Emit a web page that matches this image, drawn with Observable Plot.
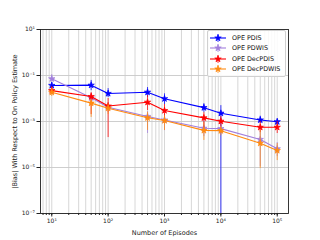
<!DOCTYPE html>
<html>
<head>
<meta charset="utf-8">
<script src="https://cdn.jsdelivr.net/npm/d3@7"></script>
<script src="https://cdn.jsdelivr.net/npm/@observablehq/plot@0.6"></script>
<style>
  html, body { margin: 0; padding: 0; background: white; }
  #wrap { position: relative; width: 320px; height: 240px; font-family: "DejaVu Sans", sans-serif; }
  #wrap > svg { display: block; }
  #legend { position: absolute; left: 207px; top: 30px; width: 77px; padding: 2px 0 2px 0;
            border: 1px solid #d0d0d0; border-radius: 2px; background: rgba(255,255,255,0.85); }
  .item { display: flex; align-items: center; height: 10.3px; font-size: 6.4px; color: #111; }
  .item svg { margin-left: 2px; margin-right: 6px; }
</style>
</head>
<body>
<div id="wrap"><div id="legend"></div></div>
<script>
// ---- data ----
const episodes = [10, 50, 100, 500, 1000, 5000, 10000, 50000, 100000];

const seriesNames = ["OPE PDIS", "OPE PDWIS", "OPE DecPDIS", "OPE DecPDWIS"];
const seriesColors = ["#0000ff", "#a27fdc", "#ff0000", "#ff8a10"];

const pdis   = [0.037, 0.038, 0.0166, 0.0188, 0.0098, 0.0040, 0.0023, 0.00117, 0.00098];
const pdisLo = [0.030, 0.022, 0.011, 0.011, 0.0055, 0.0025, 1e-9, 0.00082, 0.00066];
const pdisHi = [0.050, 0.061, 0.027, 0.030, 0.016, 0.0060, 0.0049, 0.0017, 0.0013];

const pdwis   = [0.072, 0.0107, 0.0042, 0.00166, 0.00117, 0.00051, 0.00049, 0.000166, 0.000065];
const pdwisLo = [0.050, 0.0055, 0.00246, 0.0003, 0.0004, 0.00022, 0.00027, 0.000011, 0.00003];
const pdwisHi = [0.110, 0.0166, 0.0067, 0.0027, 0.0020, 0.0011, 0.00082, 0.00041, 0.000122];

const decpdis   = [0.022, 0.0122, 0.0047, 0.0069, 0.0030, 0.00144, 0.00103, 0.00056, 0.00056];
const decpdisLo = [0.015, 0.0020, 0.0002, 0.0030, 0.0015, 0.0005, 0.00061, 0.00033, 0.0003];
const decpdisHi = [0.033, 0.0182, 0.0100, 0.0135, 0.0055, 0.00246, 0.00165, 0.0010, 0.0010];

const decpdwis   = [0.0187, 0.0063, 0.0038, 0.00145, 0.0011, 0.00041, 0.0004, 0.000114, 0.000055];
const decpdwisLo = [0.0122, 0.0015, 0.0020, 0.00041, 0.00041, 0.00015, 0.00024, 0.000009, 0.00002];
const decpdwisHi = [0.027, 0.0090, 0.0060, 0.0025, 0.0018, 0.0009, 0.00061, 0.00041, 0.00011];

const xTicks = [10, 100, 1000, 10000, 100000];
const xTickLabels = ["10¹", "10²", "10³", "10⁴", "10⁵"];
const yTicks = [10, 0.1, 0.001, 0.00001, 0.0000001];
const yTickLabels = ["10¹", "10⁻¹", "10⁻³", "10⁻⁵", "10⁻⁷"];

const xLabel = "Number of Episodes";
const yLabel = "|Bias| With Respect to On Policy Estimate";

// ---- build tables ----
const seriesValues = [pdis, pdwis, decpdis, decpdwis];
const seriesLo = [pdisLo, pdwisLo, decpdisLo, decpdwisLo];
const seriesHi = [pdisHi, pdwisHi, decpdisHi, decpdwisHi];

const xLabelOf = new Map(xTicks.map((t, i) => [t, xTickLabels[i]]));
const yLabelOf = new Map(yTicks.map((t, i) => [t, yTickLabels[i]]));

const xDomain = [10 ** 0.8, 10 ** 5.2];
const yDomain = [1e-7, 10];
const xMinor = d3.scaleLog().domain(xDomain).ticks().filter(t => t >= xDomain[0] && t <= xDomain[1]);

const marks = [
  Plot.ruleX(xMinor, {x: d => d, stroke: "#d2d2d2", strokeWidth: 0.9}),
  Plot.ruleY(yTicks, {y: d => d, stroke: "#c8c8c8", strokeWidth: 0.9}),
];

seriesNames.forEach((name, s) => {
  const rows = episodes.map((e, i) => ({x: e, y: seriesValues[s][i], lo: seriesLo[s][i], hi: seriesHi[s][i]}));
  const c = seriesColors[s];
  marks.push(
    Plot.ruleX(rows, {x: "x", y1: "lo", y2: "hi", stroke: c, strokeWidth: 1, strokeOpacity: 0.75, clip: true}),
    Plot.line(rows, {x: "x", y: "y", stroke: c, strokeWidth: 1.1}),
    Plot.dot(rows, {x: "x", y: "y", symbol: "star", r: 2, fill: c, stroke: c, strokeWidth: 0.7})
  );
});

marks.push(
  Plot.frame({stroke: "#222", strokeWidth: 0.9}),
  Plot.axisX(xMinor, {tickSize: 2, text: null, stroke: "#222", label: null}),
  Plot.axisX(xTicks, {tickSize: 3.5, tickPadding: 2, tickFormat: d => xLabelOf.get(d), fontSize: 6, fill: "#222", stroke: "#222", label: null}),
  Plot.axisY(yTicks, {tickSize: 3.5, tickPadding: 2, tickFormat: d => yLabelOf.get(d), fontSize: 6, fill: "#222", stroke: "#222", label: null}),
  Plot.text([xLabel], {text: d => d, frameAnchor: "bottom", lineAnchor: "middle", textAnchor: "middle", dy: 19, fontSize: 6.5, fill: "#222"}),
  Plot.text([yLabel], {text: d => d, frameAnchor: "left", textAnchor: "middle", lineAnchor: "middle", dx: -26, rotate: -90, fontSize: 6.5, fill: "#222"})
);

const chart = Plot.plot({
  width: 320, height: 240,
  marginLeft: 40, marginRight: 32, marginTop: 29, marginBottom: 27,
  style: {fontFamily: "DejaVu Sans", background: "white", overflow: "visible"},
  x: {type: "log", domain: xDomain},
  y: {type: "log", domain: yDomain},
  marks
});
const wrap = document.getElementById("wrap");
wrap.insertBefore(chart, wrap.firstChild);

// ---- legend ----
const legend = document.getElementById("legend");
const starPath = d3.symbol(d3.symbolStar, 13)();
seriesNames.forEach((name, s) => {
  const c = seriesColors[s];
  const item = document.createElement("div");
  item.className = "item";
  item.innerHTML = `<svg width="16" height="10" viewBox="0 0 16 10">
      <line x1="0" x2="16" y1="5" y2="5" stroke="${c}" stroke-width="1.1"/>
      <line x1="8" x2="8" y1="1" y2="9" stroke="${c}" stroke-width="1" stroke-opacity="0.75"/>
      <path d="${starPath}" transform="translate(8,5)" fill="${c}" stroke="${c}" stroke-width="0.7"/>
    </svg><span>${name}</span>`;
  legend.appendChild(item);
});
</script>
</body>
</html>
